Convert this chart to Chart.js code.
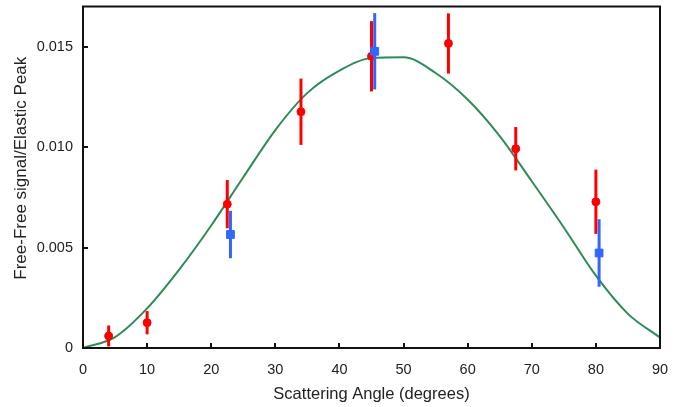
<!DOCTYPE html>
<html>
<head>
<meta charset="utf-8">
<script src="https://cdn.jsdelivr.net/npm/chart.js@4/dist/chart.umd.min.js"></script>
<style>
  html, body { margin: 0; padding: 0; background: #fff; }
  #wrap { width: 680px; height: 407px; position: relative; }
</style>
</head>
<body>
<div id="wrap"><canvas id="chart"></canvas></div>
<script>
// theory curve (every 5 degrees)
var curveAngles = [0, 5, 10, 15, 20, 25, 30, 35, 40, 45, 50, 55, 60, 65, 70, 75, 80, 85, 90];
var curveValues = [0, 0.00054, 0.00197, 0.0039, 0.0061, 0.0085, 0.01085, 0.0127, 0.01381,
  0.01443, 0.01447, 0.01369, 0.01237, 0.01055, 0.0083, 0.006, 0.0036, 0.0017, 0.00052];

// red measurements
var redAngles = [4, 10, 22.5, 34, 45, 57, 67.5, 80];
var redValues = [0.0006, 0.00126, 0.00716, 0.01176, 0.01452, 0.01516, 0.00992, 0.00728];
var redErrors = [0.00052, 0.00058, 0.0012, 0.00165, 0.00175, 0.0015, 0.00108, 0.0016];

// blue measurements
var blueAngles = [23, 45.5, 80.5];
var blueValues = [0.00565, 0.01477, 0.00473];
var blueErrors = [0.00118, 0.0019, 0.00168];

var xTicks = [0, 10, 20, 30, 40, 50, 60, 70, 80, 90];
var yTicks = [0, 0.005, 0.010, 0.015];

var yTitle = "Free-Free signal/Elastic Peak";

function pts(xs, ys, errs) {
  return xs.map(function (x, i) {
    var p = { x: x, y: ys[i] };
    if (errs) p.err = errs[i];
    return p;
  });
}

Chart.defaults.font.family = '"Liberation Sans", Arial, sans-serif';
Chart.defaults.font.size = 14;
Chart.defaults.color = "#222";

// vertical error bars, drawn just before each dataset's markers
var errorBars = {
  id: "errorBars",
  beforeDatasetDraw: function (chart, args) {
    var ds = chart.data.datasets[args.index];
    if (!ds.errColor) return;
    var xs = chart.scales.x, ys = chart.scales.y, ctx = chart.ctx;
    ctx.save();
    ctx.strokeStyle = ds.errColor;
    ctx.lineWidth = 3;
    ds.data.forEach(function (p) {
      var px = xs.getPixelForValue(p.x);
      var top = ys.getPixelForValue(Math.min(p.y + p.err, ys.max));
      var bot = ys.getPixelForValue(Math.max(p.y - p.err, ys.min));
      ctx.beginPath();
      ctx.moveTo(px, top);
      ctx.lineTo(px, bot);
      ctx.stroke();
    });
    ctx.restore();
  }
};

// black frame, inward tick marks, y title (sits a bit above centre)
var frame = {
  id: "frame",
  afterDraw: function (chart) {
    var a = chart.chartArea, ctx = chart.ctx;
    var xs = chart.scales.x, ys = chart.scales.y;
    ctx.save();
    ctx.strokeStyle = "#111";
    ctx.lineWidth = 2;
    ctx.beginPath();
    xs.ticks.forEach(function (t) {
      var px = Math.round(xs.getPixelForValue(t.value));
      ctx.moveTo(px, a.bottom);
      ctx.lineTo(px, a.bottom - 5);
    });
    ys.ticks.forEach(function (t) {
      var py = Math.round(ys.getPixelForValue(t.value));
      ctx.moveTo(a.left, py);
      ctx.lineTo(a.left + 5, py);
    });
    ctx.stroke();
    ctx.strokeRect(a.left, a.top, a.right - a.left, a.bottom - a.top);

    ctx.translate(21, (a.top + a.bottom) / 2 - 9);
    ctx.rotate(-Math.PI / 2);
    ctx.fillStyle = "#222";
    ctx.font = '17px "Liberation Sans", Arial, sans-serif';
    ctx.textAlign = "center";
    ctx.textBaseline = "middle";
    ctx.fillText(yTitle, 0, 0);
    ctx.restore();
  }
};

new Chart(document.getElementById("chart"), {
  type: "scatter",
  data: {
    datasets: [
      {
        type: "line",
        data: pts(curveAngles, curveValues),
        borderColor: "#2e8b57",
        borderWidth: 2,
        pointRadius: 0,
        fill: false,
        cubicInterpolationMode: "monotone",
        order: 3
      },
      {
        data: pts(redAngles, redValues, redErrors),
        backgroundColor: "#ff0000",
        borderColor: "#ff0000",
        borderWidth: 1,
        pointRadius: 4,
        pointStyle: "circle",
        errColor: "#ff0000",
        order: 2
      },
      {
        data: pts(blueAngles, blueValues, blueErrors),
        backgroundColor: "#3366ff",
        borderColor: "#3366ff",
        borderWidth: 1,
        pointRadius: 5.5,
        pointStyle: "rect",
        errColor: "#3366ff",
        order: 1
      }
    ]
  },
  options: {
    responsive: true,
    maintainAspectRatio: false,
    animation: false,
    layout: { padding: { left: 0, right: 20, top: 5, bottom: 0 } },
    scales: {
      x: {
        type: "linear",
        min: 0,
        max: 90,
        afterFit: function (s) {
          s.height = 59;
          s.paddingLeft = 0;
          s.paddingRight = 0;
        },
        afterBuildTicks: function (s) {
          s.ticks = xTicks.map(function (v) { return { value: v }; });
        },
        grid: { display: false, drawTicks: false },
        border: { display: false },
        ticks: { padding: 13, color: "#222", font: { size: 14.5 } },
        title: {
          display: true,
          text: "Scattering Angle (degrees)",
          color: "#222",
          font: { size: 16.5 },
          padding: { top: 0, bottom: 3 }
        }
      },
      y: {
        type: "linear",
        min: 0,
        max: 0.017,
        afterFit: function (s) {
          s.width = 83;
          s.paddingTop = 0;
          s.paddingBottom = 0;
        },
        afterBuildTicks: function (s) {
          s.ticks = yTicks.map(function (v) { return { value: v }; });
        },
        grid: { display: false, drawTicks: false },
        border: { display: false },
        ticks: {
          padding: 10,
          color: "#222",
          font: { size: 14.5 },
          callback: function (v) { return v === 0 ? "0" : v.toFixed(3); }
        },
        title: { display: false }
      }
    },
    plugins: {
      legend: { display: false },
      tooltip: { enabled: false }
    }
  },
  plugins: [errorBars, frame]
});
</script>
</body>
</html>
